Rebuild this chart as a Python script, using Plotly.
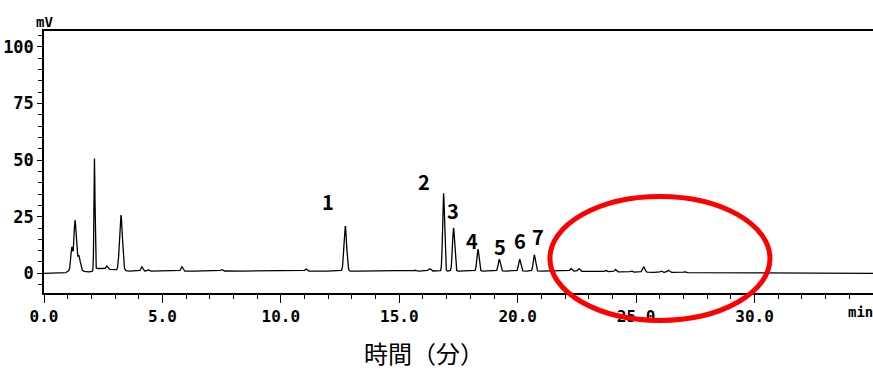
import numpy as np
import plotly.graph_objects as go

# Peak table of the chromatogram: retention time (min), height above baseline (mV), width sigma (min)
peak_times = [1.17, 1.31, 1.47, 1.30, 2.13, 2.65, 3.25, 4.13, 4.41, 5.82, 7.50, 11.06,
              12.72, 15.67, 16.27, 16.87, 17.29, 18.32, 19.22, 20.08, 20.70,
              22.25, 22.58, 23.70, 24.12, 24.79, 25.32, 26.05, 26.35, 27.04]
peak_heights = [9.0, 20.0, 5.5, 3.0, 49.0, 1.4, 24.5, 1.9, 0.6, 1.9, 0.7, 0.9,
                19.9, 0.4, 1.1, 34.3, 19.1, 9.6, 5.2, 5.2, 7.1,
                1.2, 1.2, 0.6, 1.1, 0.5, 2.3, 0.6, 1.0, 0.4]
peak_widths = [0.04, 0.045, 0.06, 0.18, 0.022, 0.04, 0.06, 0.04, 0.03, 0.04, 0.04, 0.04,
               0.055, 0.04, 0.05, 0.04, 0.045, 0.045, 0.045, 0.045, 0.045,
               0.04, 0.04, 0.04, 0.04, 0.04, 0.05, 0.04, 0.05, 0.04]

# Detector baseline level (mV) at selected times (min)
baseline_times = [0.0, 1.0, 1.7, 2.0, 2.2, 2.9, 3.1, 3.6, 22.0, 24.5, 27.0, 27.55, 27.6, 35.0]
baseline_levels = [0.0, 0.0, 0.6, 0.6, 2.2, 1.6, 1.3, 1.0, 1.0, 0.6, 0.3, 0.3, 0.0, 0.0]

# Numbered peaks: label, time and signal level where the number sits
label_texts = ["1", "2", "3", "4", "5", "6", "7"]
label_times = [12.01, 16.03, 17.27, 18.07, 19.27, 20.08, 20.84]
label_levels = [31.6, 40.4, 27.6, 14.7, 11.7, 14.7, 16.1]

x_range = [0, 35]
y_range = [-8.7, 107]

t = np.arange(0, 35.0001, 0.005)
signal = np.interp(t, baseline_times, baseline_levels)
for rt, h, w in zip(peak_times, peak_heights, peak_widths):
    signal = signal + h * np.exp(-0.5 * ((t - rt) / w) ** 2)

fig = go.Figure()
fig.add_trace(go.Scatter(x=t, y=signal, mode="lines",
                         line=dict(color="black", width=1.3),
                         hoverinfo="skip", showlegend=False))

for txt, xt, yl in zip(label_texts, label_times, label_levels):
    fig.add_annotation(x=xt, y=yl, xref="x", yref="y", text=txt, showarrow=False,
                       font=dict(family="Noto Sans CJK JP", size=20, color="black", weight="bold"),
                       xanchor="center", yanchor="middle")

# Highlight ellipse around the late-eluting region (data units -> paper units)
ell_x = [21.36, 30.65]
ell_y = [-20.8, 33.9]


def to_paper(v, rng):
    return (v - rng[0]) / (rng[1] - rng[0])


fig.add_shape(type="circle", xref="paper", yref="paper",
              x0=to_paper(ell_x[0], x_range), x1=to_paper(ell_x[1], x_range),
              y0=to_paper(ell_y[0], y_range), y1=to_paper(ell_y[1], y_range),
              line=dict(color="#ff0000", width=5), layer="above")

fig.update_layout(
    width=873, height=369,
    margin=dict(l=44, r=0, t=31, b=76),
    paper_bgcolor="white", plot_bgcolor="white",
    xaxis=dict(range=x_range, showgrid=False, zeroline=False,
               showline=True, linecolor="black", linewidth=1.5, mirror=True,
               ticks="outside", ticklen=8, tickwidth=1.3, tickcolor="black",
               tickvals=[0, 5, 10, 15, 20, 25, 30],
               ticktext=["0.0", "5.0", "10.0", "15.0", "20.0", "25.0", "30.0"],
               tickfont=dict(family="DejaVu Sans Mono", size=16, color="black", weight="bold"),
               minor=dict(dtick=1, tick0=0, ticks="outside", ticklen=4,
                          tickwidth=1.2, tickcolor="black", showgrid=False)),
    yaxis=dict(range=y_range, showgrid=False, zeroline=False,
               showline=True, linecolor="black", linewidth=1.5,
               ticks="outside", ticklen=5, tickwidth=1.3, tickcolor="black",
               tickvals=[0, 25, 50, 75, 100],
               tickfont=dict(family="DejaVu Sans Mono", size=17, color="black", weight="bold"),
               ticklabelstandoff=0,
               minor=dict(dtick=5, tick0=0, ticks="outside", ticklen=4,
                          tickwidth=1.2, tickcolor="black", showgrid=False)),
)

fig.add_annotation(x=0, y=1.034, xref="paper", yref="paper", text="mV", showarrow=False,
                   font=dict(family="DejaVu Sans Mono", size=14, color="black", weight="bold"),
                   xanchor="center", yanchor="middle")
fig.add_annotation(x=1.002, y=-0.0725, xref="paper", yref="paper", text="min", showarrow=False,
                   font=dict(family="DejaVu Sans Mono", size=14, color="black", weight="bold"),
                   xanchor="right", yanchor="middle")
fig.add_annotation(x=0.458, y=-0.229, xref="paper", yref="paper", text="時間（分）",
                   showarrow=False,
                   font=dict(family="Noto Sans CJK JP", size=24, color="black"),
                   xanchor="center", yanchor="middle")

fig.write_html("out.html")
